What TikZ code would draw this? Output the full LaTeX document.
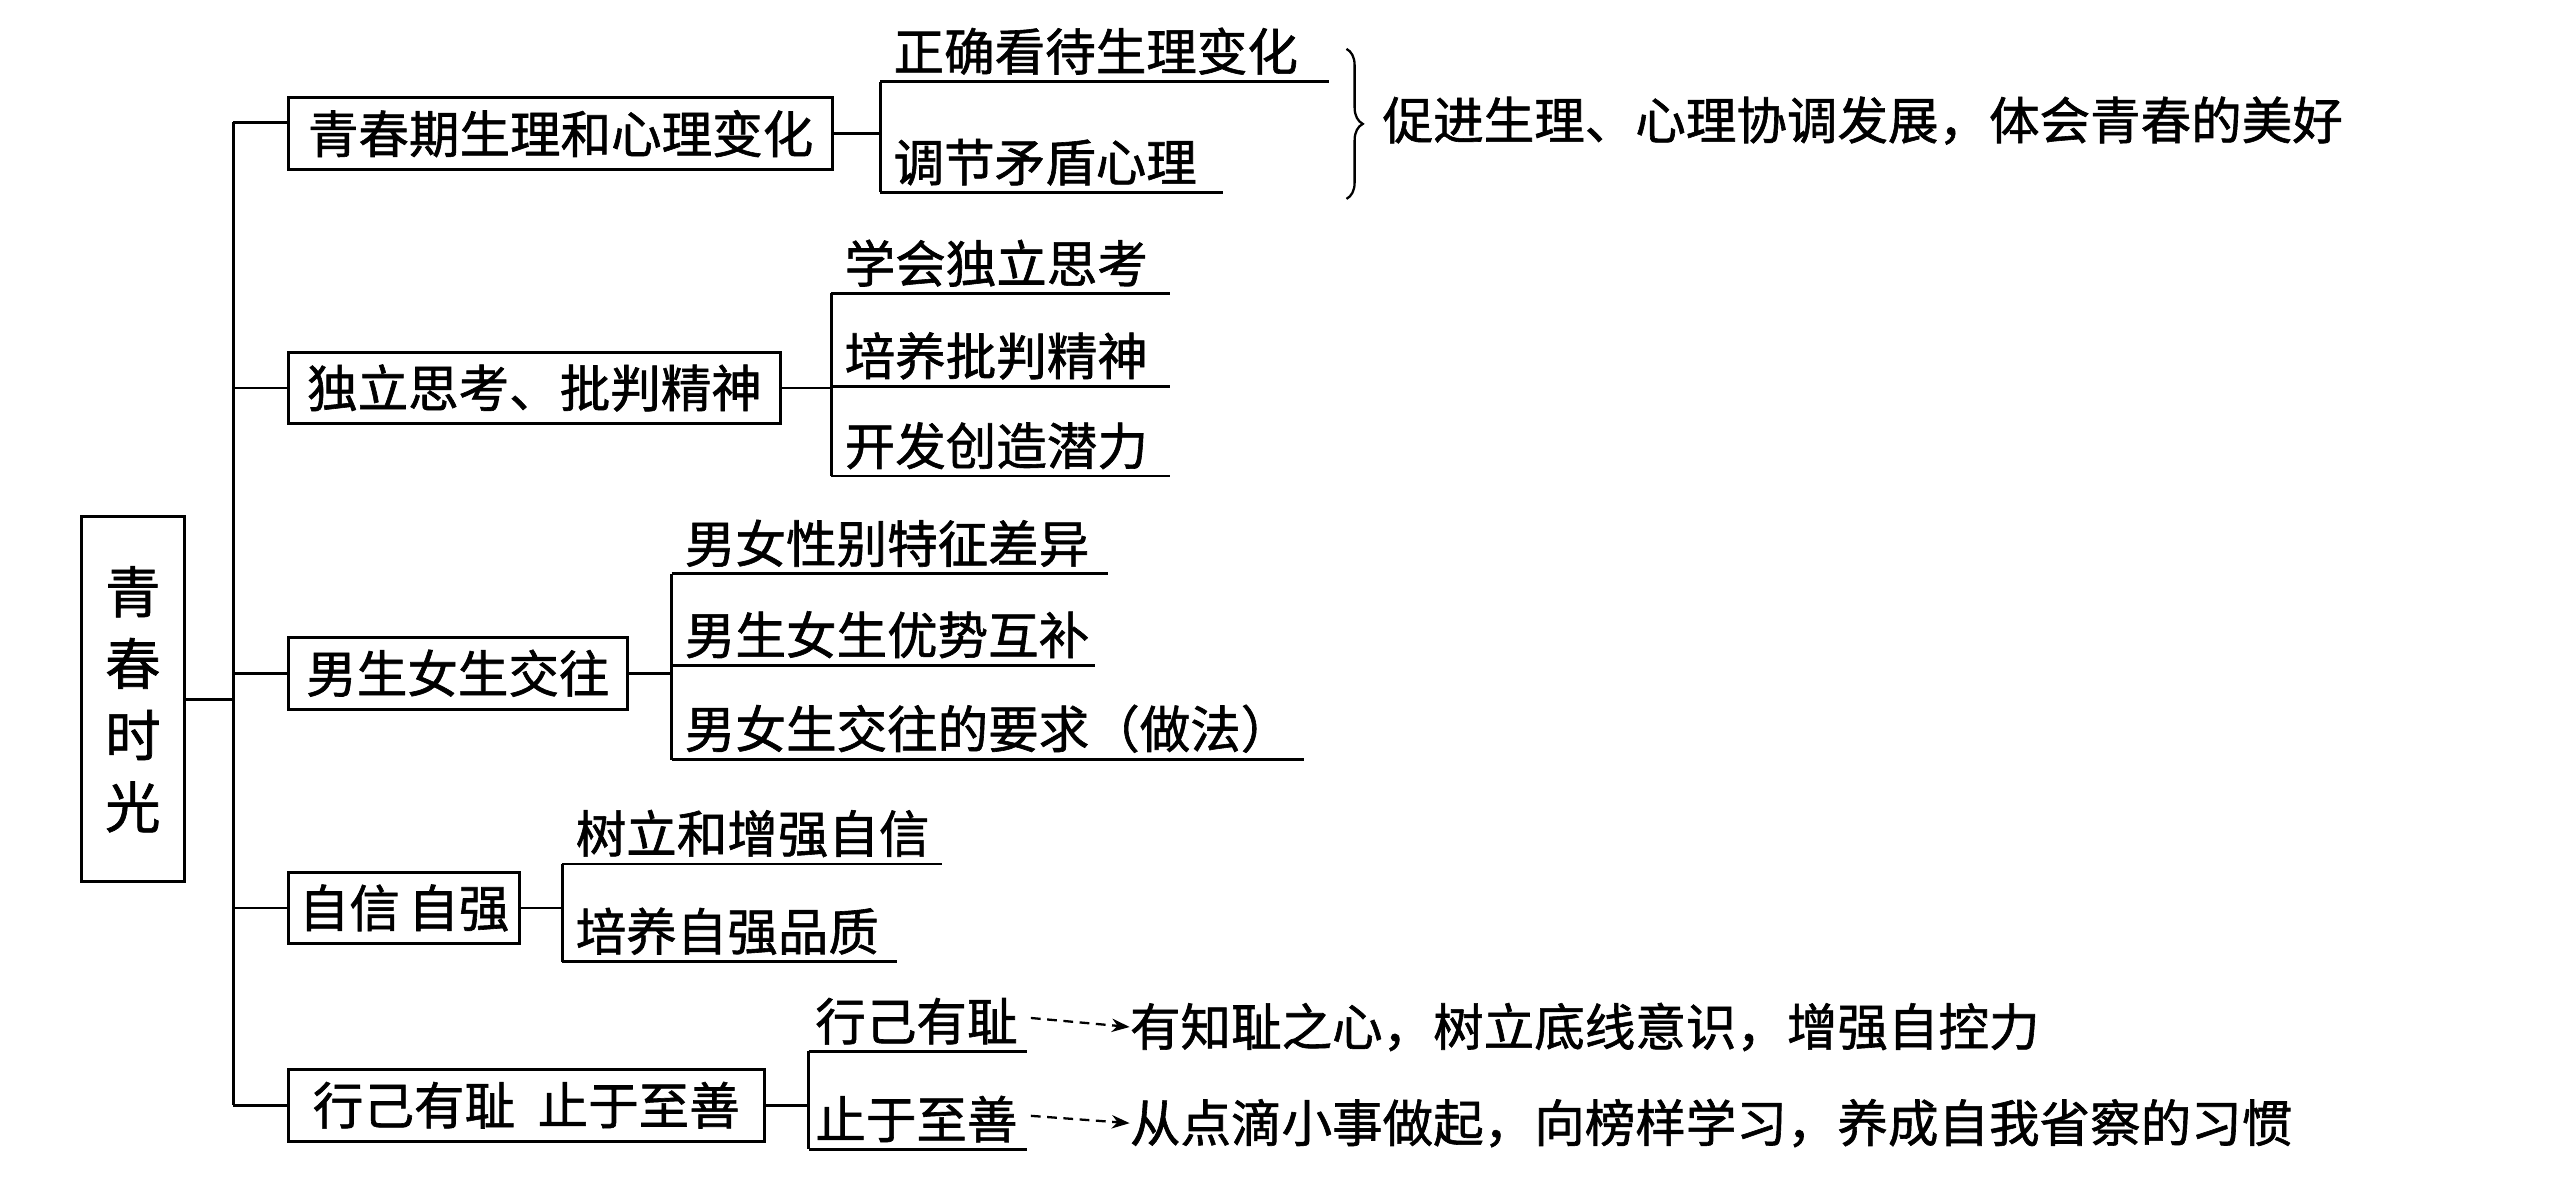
\documentclass[tikz,border=0pt]{standalone}
\usepackage{fontspec}
\setmainfont[FakeBold=1.2]{Noto Sans CJK SC}
\usetikzlibrary{decorations.pathreplacing,arrows.meta}
\begin{document}
\begin{tikzpicture}[x=1pt,y=-1pt,
  every node/.style={font=\fontsize{31}{36}\selectfont, inner sep=0pt},
  box/.style={draw, line width=1.8pt, inner xsep=6pt, minimum height=44pt},
  item/.style={anchor=south west, inner xsep=8pt, inner ysep=4pt},
  ln/.style={line width=1.8pt},
  da/.style={dash pattern=on 6pt off 4pt, line width=1.4pt, -{Stealth[length=11pt]}}]
\useasboundingbox[fill=white] (0,0) rectangle (1568,726);
% root
\node[draw, line width=1.8pt, minimum width=63pt, minimum height=224pt, align=center,
  font=\fontsize{34}{44}\selectfont] (root) at (81.5,429) {青\\春\\时\\光};
\coordinate (t0) at (143,75);
\coordinate (t1) at (143,678);
\draw[ln] (t0) -- (t1);
\draw[ln] (root.east) -- (143,429);
% branch boxes
\node[box, anchor=west, minimum width=334pt] (b1) at (176,82) {青春期生理和心理变化};
\node[box, anchor=west, minimum width=302pt] (b2) at (176,238) {独立思考、批判精神};
\node[box, anchor=west, minimum width=208pt] (b3) at (176,413) {男生女生交往};
\node[box, anchor=west, minimum width=142pt] (b4) at (176,557) {自信\,自强};
\node[box, anchor=west, minimum width=292pt] (b5) at (176,678) {行己有耻\ \ 止于至善};
\foreach \b/\y in {b2/238,b3/413,b4/557,b5/678} \draw[ln] (143,\y) -- (\b.west);
\draw[ln] (143,75) -- (176,75);
% group 1
\draw[ln] (b1.east) -- (540,82);
\draw[ln] (540,50) -- (540,118);
\node[item] (i11) at (540,50) {正确看待生理变化};
\node[item] (i12) at (540,118) {调节矛盾心理};
\draw[ln] (540,50) -- (815,50);
\draw[ln] (540,118) -- (750,118);
\draw[line width=1.4pt, decorate, decoration={brace, amplitude=10pt}] (826,30) -- (826,122);
\node[anchor=west] (s1) at (848,74) {促进生理、心理协调发展，体会青春的美好};
% group 2
\draw[ln] (b2.east) -- (510,238);
\draw[ln] (510,180) -- (510,292);
\node[item] (i21) at (510,180) {学会独立思考};
\node[item] (i22) at (510,237) {培养批判精神};
\node[item] (i23) at (510,292) {开发创造潜力};
\draw[ln] (510,180) -- (718,180);
\draw[ln] (510,237) -- (718,237);
\draw[ln] (510,292) -- (718,292);
% group 3
\draw[ln] (b3.east) -- (412,413);
\draw[ln] (412,352) -- (412,466);
\node[item] (i31) at (412,352) {男女性别特征差异};
\node[item] (i32) at (412,408) {男生女生优势互补};
\node[item] (i33) at (412,466) {男女生交往的要求（做法）};
\draw[ln] (412,352) -- (680,352);
\draw[ln] (412,408) -- (672,408);
\draw[ln] (412,466) -- (800,466);
% group 4
\draw[ln] (b4.east) -- (345,557);
\draw[ln] (345,530) -- (345,590);
\node[item] (i41) at (345,530) {树立和增强自信};
\node[item] (i42) at (345,590) {培养自强品质};
\draw[ln] (345,530) -- (578,530);
\draw[ln] (345,590) -- (550,590);
% group 5
\draw[ln] (b5.east) -- (496,678);
\draw[ln] (496,645) -- (496,705);
\node[item, inner xsep=4pt] (i51) at (496,645) {行己有耻};
\node[item, inner xsep=4pt] (i52) at (496,705) {止于至善};
\draw[ln] (496,645) -- (630,645);
\draw[ln] (496,705) -- (630,705);
\node[anchor=west] (s51) at (693,630) {有知耻之心，树立底线意识，增强自控力};
\node[anchor=west] (s52) at (693,689) {从点滴小事做起，向榜样学习，养成自我省察的习惯};
\draw[da] (i51.east) ++(4,-2) -- (s51.west);
\draw[da] (i52.east) ++(4,-2) -- (s52.west);
\end{tikzpicture}
\end{document}
